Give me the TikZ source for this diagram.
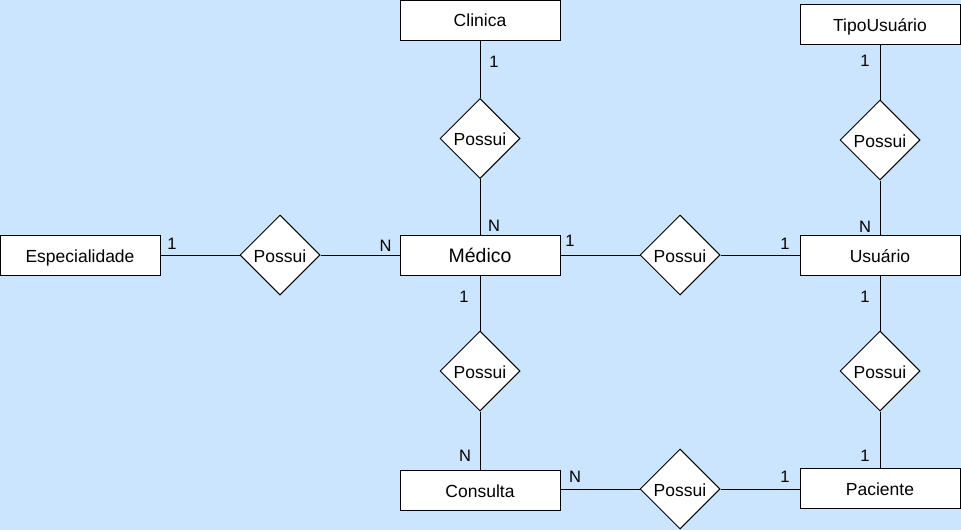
\documentclass[tikz,border=0pt]{standalone}
\usepackage{fontspec}
\setmainfont{Liberation Sans}
\usetikzlibrary{shapes.geometric}
\definecolor{bgblue}{HTML}{CCE5FF}
\begin{document}
\begin{tikzpicture}[x=1pt,y=-1pt,
  entity/.style={draw=black,fill=white,line width=1pt,minimum width=160pt,minimum height=40pt,inner sep=0pt,text height=14pt,text depth=0pt,font=\fontsize{17.5}{20}\selectfont},
  rel/.style={draw=black,fill=white,line width=1pt,diamond,minimum width=80pt,minimum height=80pt,inner sep=0pt,aspect=1,text height=14pt,text depth=0pt,font=\fontsize{17.5}{20}\selectfont},
  conn/.style={draw=black,line width=1pt},
  card/.style={font=\fontsize{16.5}{18}\selectfont,inner sep=0pt}]
\fill[bgblue] (0,0) rectangle (961,530);
\useasboundingbox (0,0) rectangle (961,530);
% entities
\node[entity] (clin) at (480,20) {Clinica};
\node[entity] (tipo) at (880,24) {TipoUsuário};
\node[entity] (esp) at (80,255) {Especialidade};
\node[entity,font=\fontsize{19.5}{22}\selectfont] (med) at (480,255) {Médico};
\node[entity] (usu) at (880,255) {Usuário};
\node[entity] (cons) at (480,490) {Consulta};
\node[entity] (pac) at (880,488) {Paciente};
% relationships
\node[rel] (r1) at (480,138.5) {Possui};
\node[rel] (r2) at (880,140) {Possui};
\node[rel] (r3) at (280,255) {Possui};
\node[rel] (r4) at (680,255) {Possui};
\node[rel] (r5) at (480,371) {Possui};
\node[rel] (r6) at (880,371) {Possui};
\node[rel] (r7) at (680,489) {Possui};
% connectors
\draw[conn] (clin.south) -- (r1.north);
\draw[conn] (r1.south) -- (med.north);
\draw[conn] (tipo.south) -- (r2.north);
\draw[conn] (r2.south) -- (usu.north);
\draw[conn] (esp.east) -- (r3.west);
\draw[conn] (r3.east) -- (med.west);
\draw[conn] (med.east) -- (r4.west);
\draw[conn] (r4.east) -- (usu.west);
\draw[conn] (med.south) -- (r5.north);
\draw[conn] (r5.south) -- (cons.north);
\draw[conn] (usu.south) -- (r6.north);
\draw[conn] (r6.south) -- (pac.north);
\draw[conn] (cons.east |- r7.west) -- (r7.west);
\draw[conn] (r7.east) -- (pac.west |- r7.east);
% cardinalities
\node[card] (c1) at (494,61.5) {1};
\node[card] (c2) at (494,226) {N};
\node[card] (c3) at (172,244) {1};
\node[card] (c4) at (385.5,246) {N};
\node[card] (c5) at (570,241) {1};
\node[card] (c6) at (785,244) {1};
\node[card] (c7) at (865,61) {1};
\node[card] (c8) at (865,227) {N};
\node[card] (c9) at (464,297) {1};
\node[card] (c10) at (465,456) {N};
\node[card] (c11) at (865,297) {1};
\node[card] (c12) at (865,456) {1};
\node[card] (c13) at (575,477) {N};
\node[card] (c14) at (785,477) {1};
\end{tikzpicture}
\end{document}
